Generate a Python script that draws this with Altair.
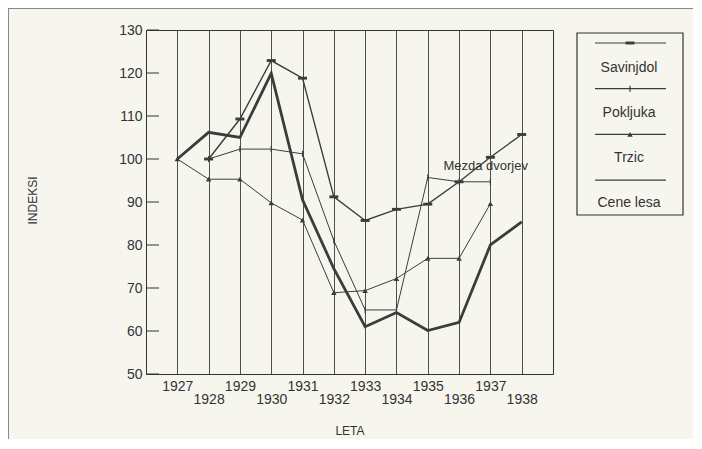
import altair as alt
import pandas as pd

# ---------------- data ----------------
years = list(range(1927, 1939))
savinjdol = [None, 100, 109.3, 122.9, 118.8, 91.2, 85.7, 88.3, 89.5, 94.7, 100.4, 105.7]
pokljuka = [None, 100, 102.3, 102.3, 101.2, 81.0, 64.9, 64.9, 95.7, 94.7, 94.7, None]
trzic = [100, 95.3, 95.3, 89.8, 85.8, 68.9, 69.4, 72.2, 76.9, 76.9, 89.6, None]
cene_lesa = [100, 106.2, 105.0, 119.9, 90.5, 74.5, 61.0, 64.3, 60.1, 62.0, 80.0, 85.4]
series_names = ["Savinjdol", "Pokljuka", "Trzic", "Cene lesa"]
y_ticks = [50, 60, 70, 80, 90, 100, 110, 120, 130]
annotation_text = ["Mezda dvorjev"]
annotation_year = [1936.85]
annotation_value = [98.4]
x_title = "LETA"
y_title = "INDEKSI"

# ---------------- styles ----------------
INK = "#333333"
LINE = "#3c3c3c"
FONT = "Liberation Sans"
BG = "#f7f6ee"
W, H = 407, 344

styles = {
    "Savinjdol": dict(width=1.4, shape="M-1,-0.32L1,-0.32L1,0.32L-1,0.32Z", size=81),
    "Pokljuka": dict(width=1.0, shape="M-0.2,-1L0.2,-1L0.2,1L-0.2,1Z", size=36),
    "Trzic": dict(width=1.0, shape="triangle-up", size=30),
    "Cene lesa": dict(width=2.8, shape=None, size=0),
}
values_by_name = dict(zip(series_names, [savinjdol, pokljuka, trzic, cene_lesa]))

xscale = alt.Scale(domain=[1926, 1939], nice=False, zero=False)
yscale = alt.Scale(domain=[50, 130], nice=False, zero=False)

xaxis = alt.Axis(
    values=years, format="d", grid=True, gridColor=LINE, gridWidth=1, gridOpacity=0.9,
    tickSize=0, domainColor=INK, domainWidth=1,
    labelFont=FONT, labelFontSize=14, labelColor=INK, labelPadding=5,
    labelBaseline="top", labelLineHeight=13, labelOverlap=False, labelFlush=False,
    labelExpr="datum.value % 2 == 0 ? ['', datum.label] : datum.label",
    title=x_title, titleFont=FONT, titleFontSize=12, titleFontWeight="normal",
    titleColor=INK, titlePadding=19,
)
yaxis = alt.Axis(
    values=y_ticks, grid=False, tickSize=0, domainColor=INK, domainWidth=1,
    labelFont=FONT, labelFontSize=14, labelColor=INK, labelPadding=4,
    title=y_title, titleFont=FONT, titleFontSize=12, titleFontWeight="normal",
    titleColor=INK, titleX=-107, titleY=170, titleAngle=270,
)

X = alt.X("year:Q", scale=xscale, axis=xaxis)
Y = alt.Y("value:Q", scale=yscale, axis=yaxis)

data_layers = []
for name in series_names:
    df = pd.DataFrame({"year": years, "value": values_by_name[name]}).dropna()
    st = styles[name]
    data_layers.append(
        alt.Chart(df).mark_line(color=LINE, strokeWidth=st["width"]).encode(x=X, y=Y)
    )
    if st["shape"]:
        data_layers.append(
            alt.Chart(df).mark_point(filled=True, shape=st["shape"], size=st["size"],
                                     color=LINE, opacity=1).encode(x=X, y=Y)
        )

ann_df = pd.DataFrame({"year": annotation_year, "value": annotation_value, "t": annotation_text})
data_layers.append(
    alt.Chart(ann_df).mark_text(font=FONT, fontSize=13, color=INK).encode(x=X, y=Y, text="t:N")
)

# inward tick marks on the value axis
tick_df = pd.DataFrame({"value": y_ticks})
data_layers.append(
    alt.Chart(tick_df).mark_rule(color=INK, strokeWidth=1)
    .encode(x=alt.value(1), x2=alt.value(13), y=Y)
)

plot = alt.layer(*data_layers)

# ---------------- custom legend (labels below the sample lines) ----------------
leg = pd.DataFrame({"name": series_names, "i": list(range(len(series_names)))})
leg["line_y"] = 13 + 45.7 * leg["i"]
leg["label_y"] = 38 + 45 * leg["i"]

legend_layers = [
    alt.Chart(pd.DataFrame({"k": [0]})).mark_rect(fill=None, stroke=INK, strokeWidth=1.2)
    .encode(x=alt.value(431), x2=alt.value(537), y=alt.value(3), y2=alt.value(185)),
    alt.Chart(leg).mark_rule(color=LINE, strokeWidth=1.2)
    .encode(x=alt.value(449), x2=alt.value(520), y=alt.Y("line_y:Q", scale=None, axis=None)),
    alt.Chart(leg).mark_text(font=FONT, fontSize=14, color=INK, align="center", baseline="middle")
    .encode(x=alt.value(483), y=alt.Y("label_y:Q", scale=None, axis=None), text="name:N"),
]
for name in series_names:
    st = styles[name]
    if st["shape"]:
        legend_layers.append(
            alt.Chart(leg[leg["name"] == name]).mark_point(
                filled=True, shape=st["shape"], size=st["size"], color=LINE, opacity=1)
            .encode(x=alt.value(484), y=alt.Y("line_y:Q", scale=None, axis=None))
        )
# faint scan frame (top and left edges)
legend_layers.append(
    alt.Chart(pd.DataFrame({"k": [0]})).mark_rule(color="#888888", strokeWidth=1)
    .encode(x=alt.value(-138), x2=alt.value(547), y=alt.value(-21.5))
)
legend_layers.append(
    alt.Chart(pd.DataFrame({"k": [0]})).mark_rule(color="#888888", strokeWidth=1)
    .encode(x=alt.value(-137.5), y=alt.value(-22), y2=alt.value(409))
)
legend = alt.layer(*legend_layers)

chart = (
    alt.layer(plot, legend)
    .resolve_scale(x="independent", y="independent")
    .properties(
        width=W, height=H,
        autosize=alt.AutoSizeParams(type="none"),
        padding={"left": 138, "top": 22, "right": 140, "bottom": 65},
        background=BG,
    )
    .configure_view(stroke=INK, strokeWidth=1)
)

chart.save("out.html", embed_options={"renderer": "svg", "actions": False})
